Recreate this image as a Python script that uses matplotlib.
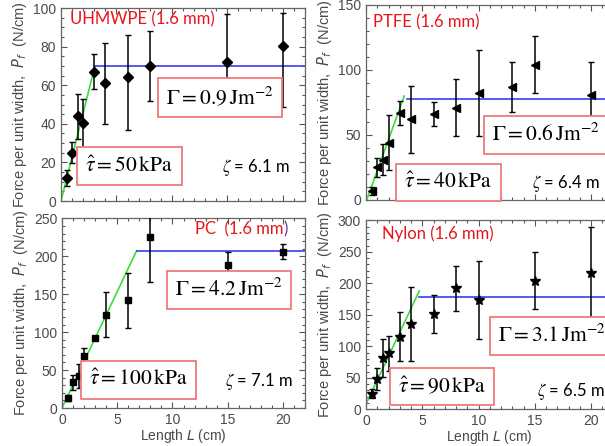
import matplotlib
matplotlib.use("Agg")
import matplotlib.pyplot as plt
from matplotlib.ticker import MultipleLocator

plt.rcParams["font.family"] = "Liberation Sans"
plt.rcParams["mathtext.fontset"] = "stix"

# UHMWPE
L_uh = [0.5, 1, 1.5, 2, 3, 4, 6, 8, 15, 20]
P_uh = [12, 25, 44, 40.5, 67, 61, 64, 70, 72, 80.5]
E_uh_lo = [4, 5.5, 12, 12.5, 9, 21, 27, 18, 25, 32]
E_uh_hi = [4, 5.5, 11.5, 12.5, 9, 21, 22, 18, 25, 17]
fit_uh = ([0, 3.05], [0, 69.7])
plateau_uh = 69.7

# PTFE
L_pt = [0.5, 1, 1.5, 2, 3, 4, 6, 8, 10, 13, 15, 20]
P_pt = [7, 25, 31, 44, 67, 62, 66, 71, 82, 87, 104, 81]
E_pt = [3, 7, 12, 21, 9, 26, 9, 22, 33, 19, 22, 25]
fit_pt = ([0.06, 3.4], [0, 80])
plateau_pt = (3.6, 77.4)

# PC
L_pc = [0.5, 1, 1.5, 2, 3, 4, 6, 8, 15, 20]
P_pc = [13, 34, 42, 69, 92, 123, 142, 225, 189, 206]
E_pc = [4, 10, 16, 10, 2, 30, 36, 59, 17, 10]
fit_pc = ([0, 6.76], [0, 207.5])
plateau_pc = 207.5

# Nylon
L_ny = [0.5, 1, 1.5, 2, 3, 4, 6, 8, 10, 15, 20]
P_ny = [25, 48, 82, 89, 115, 135, 151, 192, 173, 204, 217]
E_ny = [7, 18, 30, 28, 39, 59, 30, 36, 62, 45, 72]
fit_ny = ([0, 4.74], [8.4, 188])
plateau_ny = 177.6

GRAY = "#4a4a4a"
RED = "#e8141c"
BOX = dict(boxstyle="square,pad=0.38", fc="white", ec="#f07a7a", lw=1.3)

fig = plt.figure(figsize=(6.05, 4.46), dpi=100)


def px_axes(x0, x1, y0, y1):
    # pixel box of the original picture -> figure fraction
    return fig.add_axes([x0 / 605, 1 - y1 / 446, (x1 - x0) / 605, (y1 - y0) / 446])


def style_axes(ax, ymax, ymaj, ymin, xlabels):
    ax.set_xlim(0, 22)
    ax.set_ylim(0, ymax)
    ax.xaxis.set_major_locator(MultipleLocator(5))
    ax.xaxis.set_minor_locator(MultipleLocator(1))
    ax.yaxis.set_major_locator(MultipleLocator(ymaj))
    ax.yaxis.set_minor_locator(MultipleLocator(ymin))
    ax.tick_params(which="both", direction="in", top=True, right=True,
                   colors="#555555", labelcolor=GRAY, labelsize=10)
    ax.tick_params(which="major", length=4, width=0.8)
    ax.tick_params(which="minor", length=2, width=0.8)
    for s in ax.spines.values():
        s.set_color("#666666")
        s.set_linewidth(0.9)
    if xlabels:
        ax.set_xlabel(r"Length $L$ (cm)", color=GRAY, fontsize=10, labelpad=0,
                      math_fontfamily="dejavusans")
    else:
        ax.tick_params(labelbottom=False)
    ax.set_ylabel(r"Force per unit width,  $P_f$  (N/cm)", color=GRAY,
                  fontsize=10.5, labelpad=3, math_fontfamily="dejavusans")


def draw_data(ax, L, P, err, marker, ms, fit, plat_x, plat_y):
    ax.errorbar(L, P, yerr=err, fmt=marker, color="black", ms=ms, capsize=2,
                elinewidth=1.1, capthick=1, zorder=3)
    ax.plot(fit[0], fit[1], color="#3ddc3d", lw=1.2, zorder=2)
    ax.plot([plat_x, 22], [plat_y, plat_y], color="#3c3cf0", lw=1.2, zorder=2)


def labels(ax, title, gamma, tau, zeta, pos_title, pos_g, pos_t, pos_z):
    if title is not None:
        ax.text(*pos_title, title, transform=ax.transAxes, color=RED,
                fontsize=12, family="Lato", va="center")
    ax.text(*pos_g, gamma, transform=ax.transAxes, fontsize=15.5, va="center",
            bbox=BOX, zorder=5)
    ax.text(*pos_t, tau, transform=ax.transAxes, fontsize=15.5, va="center",
            bbox=BOX, zorder=5)
    ax.text(*pos_z, zeta, transform=ax.transAxes, fontsize=12, family="Lato",
            va="center", zorder=5)


# top left: UHMWPE
ax1 = px_axes(61, 305, 8, 201)
style_axes(ax1, 100, 20, 5, False)
draw_data(ax1, L_uh, P_uh, [E_uh_lo, E_uh_hi], "D", 5, fit_uh, fit_uh[0][1], plateau_uh)
labels(ax1, "UHMWPE (1.6 mm)", r"$\Gamma = 0.9\,\mathrm{Jm}^{-2}$",
       r"$\hat{\tau} = 50\,\mathrm{kPa}$", r"$\zeta$ = 6.1 m",
       (0.037, 0.943), (0.43, 0.536), (0.1, 0.181), (0.66, 0.176))

# top right: PTFE
ax2 = px_axes(366, 613.5, 5, 200)
style_axes(ax2, 150, 50, 10, False)
draw_data(ax2, L_pt, P_pt, E_pt, "<", 6, fit_pt, plateau_pt[0], plateau_pt[1])
labels(ax2, "PTFE (1.6 mm)", r"$\Gamma = 0.6\,\mathrm{Jm}^{-2}$",
       r"$\hat{\tau} = 40\,\mathrm{kPa}$", r"$\zeta$ = 6.4 m",
       (0.028, 0.913), (0.51, 0.333), (0.155, 0.09), (0.67, 0.087))

# bottom left: PC
ax3 = px_axes(62, 305, 218.4, 408)
style_axes(ax3, 250, 50, 10, True)
draw_data(ax3, L_pc, P_pc, E_pc, "s", 5, fit_pc, fit_pc[0][1], plateau_pc)
labels(ax3, None, r"$\Gamma = 4.2\,\mathrm{Jm}^{-2}$",
       r"$\hat{\tau} = 100\,\mathrm{kPa}$", r"$\zeta$ = 7.1 m",
       None, (0.467, 0.622), (0.113, 0.148), (0.672, 0.142))
ax3.text(0.91, 0.944, "PC  (1.6 mm", transform=ax3.transAxes, color=RED,
         fontsize=12, family="Lato", va="center", ha="right")
ax3.text(0.91, 0.944, ")", transform=ax3.transAxes, color="#7030a0",
         fontsize=12, family="Lato", va="center", ha="left")

# bottom right: Nylon
ax4 = px_axes(366, 613.5, 220.3, 409.3)
style_axes(ax4, 300, 50, 10, True)
draw_data(ax4, L_ny, P_ny, E_ny, "*", 7, fit_ny, fit_ny[0][1], plateau_ny)
labels(ax4, "Nylon (1.6 mm)", r"$\Gamma = 3.1\,\mathrm{Jm}^{-2}$",
       r"$\hat{\tau} = 90\,\mathrm{kPa}$", r"$\zeta$ = 6.5 m",
       (0.065, 0.927), (0.535, 0.388), (0.13, 0.121), (0.69, 0.092))

fig.savefig("out.png", dpi=100)
